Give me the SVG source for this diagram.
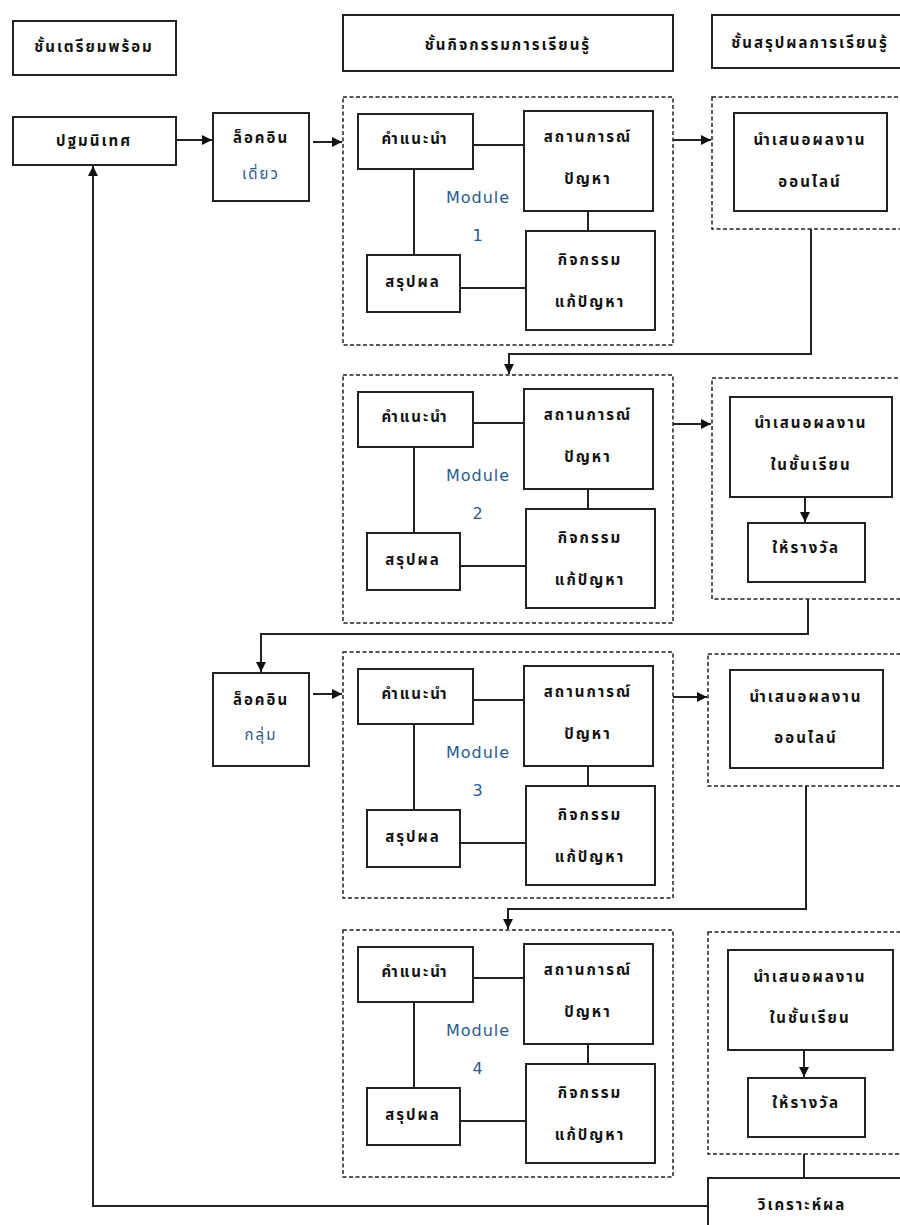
<svg xmlns="http://www.w3.org/2000/svg" width="900" height="1225" viewBox="0 0 900 1225">
<defs>
<style>
.box{fill:#fff;stroke:#222;stroke-width:2}
.dash{fill:#fff;stroke:#222;stroke-width:1.5;stroke-dasharray:4 2.5}
.ln{fill:none;stroke:#222;stroke-width:2}
.t{font-family:"Noto Sans Thai","Noto Sans","DejaVu Sans",sans-serif;font-size:15px;font-weight:bold;fill:#111;text-anchor:middle;dominant-baseline:central;letter-spacing:2px}
.b{font-family:"DejaVu Sans","Liberation Sans",sans-serif;font-size:16px;fill:#2b5a8a;text-anchor:middle;dominant-baseline:central;letter-spacing:1px}
.bt{font-family:"Noto Sans Thai","Noto Sans","DejaVu Sans",sans-serif;font-size:15px;fill:#2b5a8a;text-anchor:middle;dominant-baseline:central;letter-spacing:2px}
</style>
<marker id="ah" viewBox="0 0 10 10" refX="10" refY="5" markerWidth="10" markerHeight="10" markerUnits="userSpaceOnUse" orient="auto">
<path d="M0,0 L10,5 L0,10 z" fill="#111"/>
</marker>
</defs>
<rect width="900" height="1225" fill="#fff"/>

<!-- headers -->
<g id="h1"><rect class="box" x="13" y="21" width="163" height="54"/><text class="t" x="94" y="47">ชั้นเตรียมพร้อม</text></g>
<g id="h2"><rect class="box" x="343" y="15" width="330" height="56"/><text class="t" x="508" y="45">ชั้นกิจกรรมการเรียนรู้</text></g>
<g id="h3"><rect class="box" x="712" y="15" width="195" height="53"/><text class="t" x="810" y="43">ชั้นสรุปผลการเรียนรู้</text></g>

<!-- row nodes -->
<g id="orient"><rect class="box" x="13" y="117" width="163" height="48"/><text class="t" x="94" y="141">ปฐมนิเทศ</text></g>
<g id="login1"><rect class="box" x="213" y="113" width="96" height="88"/><text class="t" x="261" y="138">ล็อคอิน</text><text class="bt" x="261" y="174">เดี่ยว</text></g>
<g id="login2"><rect class="box" x="213" y="673" width="96" height="93"/><text class="t" x="261" y="700">ล็อคอิน</text><text class="bt" x="261" y="735">กลุ่ม</text></g>

<!-- modules -->
<g id="module1" transform="translate(0,97)">
<rect class="dash" x="343" y="0" width="330" height="248"/>
<rect class="box" x="358" y="17" width="115" height="55"/><text class="t" x="415" y="42">คำแนะนำ</text>
<rect class="box" x="524" y="14" width="129" height="100"/><text class="t" x="588" y="40">สถานการณ์</text><text class="t" x="588" y="82">ปัญหา</text>
<rect class="box" x="526" y="134" width="129" height="99"/><text class="t" x="590" y="163">กิจกรรม</text><text class="t" x="590" y="205">แก้ปัญหา</text>
<rect class="box" x="367" y="158" width="93" height="57"/><text class="t" x="413" y="185">สรุปผล</text>
<text class="b" x="478" y="100">Module</text><text class="b" x="478" y="138">1</text>
</g>
<g id="module2" transform="translate(0,375)">
<rect class="dash" x="343" y="0" width="330" height="248"/>
<rect class="box" x="358" y="17" width="115" height="55"/><text class="t" x="415" y="42">คำแนะนำ</text>
<rect class="box" x="524" y="14" width="129" height="100"/><text class="t" x="588" y="40">สถานการณ์</text><text class="t" x="588" y="82">ปัญหา</text>
<rect class="box" x="526" y="134" width="129" height="99"/><text class="t" x="590" y="163">กิจกรรม</text><text class="t" x="590" y="205">แก้ปัญหา</text>
<rect class="box" x="367" y="158" width="93" height="57"/><text class="t" x="413" y="185">สรุปผล</text>
<text class="b" x="478" y="100">Module</text><text class="b" x="478" y="138">2</text>
</g>
<g id="module3" transform="translate(0,652)">
<rect class="dash" x="343" y="0" width="330" height="246"/>
<rect class="box" x="358" y="17" width="115" height="55"/><text class="t" x="415" y="42">คำแนะนำ</text>
<rect class="box" x="524" y="14" width="129" height="100"/><text class="t" x="588" y="40">สถานการณ์</text><text class="t" x="588" y="82">ปัญหา</text>
<rect class="box" x="526" y="134" width="129" height="99"/><text class="t" x="590" y="163">กิจกรรม</text><text class="t" x="590" y="205">แก้ปัญหา</text>
<rect class="box" x="367" y="158" width="93" height="57"/><text class="t" x="413" y="185">สรุปผล</text>
<text class="b" x="478" y="100">Module</text><text class="b" x="478" y="138">3</text>
</g>
<g id="module4" transform="translate(0,930)">
<rect class="dash" x="343" y="0" width="330" height="247"/>
<rect class="box" x="358" y="17" width="115" height="55"/><text class="t" x="415" y="42">คำแนะนำ</text>
<rect class="box" x="524" y="14" width="129" height="100"/><text class="t" x="588" y="40">สถานการณ์</text><text class="t" x="588" y="82">ปัญหา</text>
<rect class="box" x="526" y="134" width="129" height="99"/><text class="t" x="590" y="163">กิจกรรม</text><text class="t" x="590" y="205">แก้ปัญหา</text>
<rect class="box" x="367" y="158" width="93" height="57"/><text class="t" x="413" y="185">สรุปผล</text>
<text class="b" x="478" y="100">Module</text><text class="b" x="478" y="138">4</text>
</g>

<!-- right panels -->
<g id="panel1">
<rect class="dash" x="712" y="97" width="195" height="132"/>
<rect class="box" x="734" y="113" width="153" height="98"/><text class="t" x="810" y="140">นำเสนอผลงาน</text><text class="t" x="810" y="182">ออนไลน์</text>
</g>
<g id="panel2">
<rect class="dash" x="712" y="378" width="195" height="221"/>
<rect class="box" x="730" y="397" width="162" height="100"/><text class="t" x="811" y="423">นำเสนอผลงาน</text><text class="t" x="811" y="465">ในชั้นเรียน</text>
<rect class="box" x="748" y="523" width="117" height="59"/><text class="t" x="806" y="548">ให้รางวัล</text>
</g>
<g id="panel3">
<rect class="dash" x="708" y="654" width="199" height="132"/>
<rect class="box" x="730" y="670" width="153" height="98"/><text class="t" x="806" y="697">นำเสนอผลงาน</text><text class="t" x="806" y="738">ออนไลน์</text>
</g>
<g id="panel4">
<rect class="dash" x="708" y="932" width="199" height="222"/>
<rect class="box" x="728" y="950" width="165" height="100"/><text class="t" x="810" y="977">นำเสนอผลงาน</text><text class="t" x="810" y="1018">ในชั้นเรียน</text>
<rect class="box" x="748" y="1078" width="117" height="59"/><text class="t" x="806" y="1103">ให้รางวัล</text>
</g>
<g id="analysis"><rect class="box" x="708" y="1178" width="200" height="60"/><text class="t" x="802" y="1205">วิเคราะห์ผล</text></g>

<!-- connectors -->
<g id="connectors">
<path class="ln" d="M176,140 H212" marker-end="url(#ah)"/>
<path class="ln" d="M313,142 H342" marker-end="url(#ah)"/>
<path class="ln" d="M673,140 H711" marker-end="url(#ah)"/>
<path class="ln" d="M811,229 V354 H509 V374" marker-end="url(#ah)"/>
<path class="ln" d="M673,424 H711" marker-end="url(#ah)"/>
<path class="ln" d="M808,599 V634 H261 V672" marker-end="url(#ah)"/>
<path class="ln" d="M313,694 H342" marker-end="url(#ah)"/>
<path class="ln" d="M673,697 H707" marker-end="url(#ah)"/>
<path class="ln" d="M806,786 V909 H508 V929" marker-end="url(#ah)"/>
<path class="ln" d="M805,497 V522" marker-end="url(#ah)"/>
<path class="ln" d="M804,1050 V1077" marker-end="url(#ah)"/>
<path class="ln" d="M804,1154 V1178"/>
<path class="ln" d="M708,1206 H93 V166" marker-end="url(#ah)"/>
<!-- module internal links -->
<g transform="translate(0,97)"><path class="ln" d="M473,48 H524 M414,72 V158 M588,114 V134 M460,191 H526"/></g>
<g transform="translate(0,375)"><path class="ln" d="M473,48 H524 M414,72 V158 M588,114 V134 M460,191 H526"/></g>
<g transform="translate(0,652)"><path class="ln" d="M473,48 H524 M414,72 V158 M588,114 V134 M460,191 H526"/></g>
<g transform="translate(0,930)"><path class="ln" d="M473,48 H524 M414,72 V158 M588,114 V134 M460,191 H526"/></g>
</g>
</svg>
